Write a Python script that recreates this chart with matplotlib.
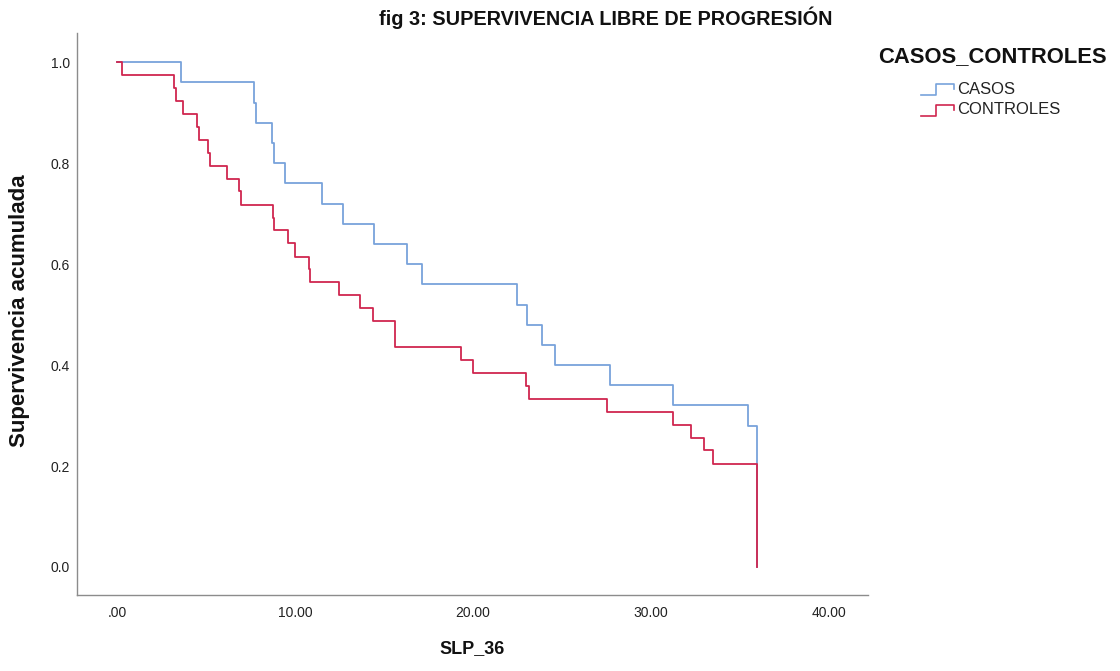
import matplotlib
matplotlib.use('Agg')
import matplotlib.pyplot as plt
from matplotlib.lines import Line2D

plt.rcParams['font.family'] = ['Liberation Sans', 'DejaVu Sans']

# Kaplan-Meier steps (time in months, survival after the event)
casos_t = [0.0, 3.62, 7.71, 7.80, 8.68, 8.81, 9.43, 11.50, 12.68, 14.46, 16.28, 17.12,
           22.46, 23.03, 23.88, 24.62, 27.71, 31.27, 35.46, 35.96]
casos_s = [1.00, 0.96, 0.92, 0.88, 0.84, 0.80, 0.76, 0.72, 0.68, 0.64, 0.60, 0.56,
           0.52, 0.48, 0.44, 0.40, 0.36, 0.32, 0.28, 0.00]

controles_t = [0.0, 0.28, 3.19, 3.34, 3.71, 4.50, 4.60, 5.12, 5.20, 6.17, 6.88, 6.94,
               8.74, 8.81, 9.62, 9.98, 10.76, 10.84, 12.49, 13.68, 14.40, 15.64,
               19.31, 20.02, 22.97, 23.16, 27.56, 31.27, 32.27, 33.00, 33.48, 35.96]
controles_s = [1.000, 0.974, 0.949, 0.923, 0.897, 0.872, 0.846, 0.821, 0.795, 0.769, 0.744, 0.718,
               0.692, 0.667, 0.641, 0.615, 0.590, 0.564, 0.538, 0.513, 0.487, 0.436,
               0.410, 0.385, 0.359, 0.333, 0.308, 0.282, 0.256, 0.231, 0.205, 0.000]

x_ticks = [0, 10, 20, 30, 40]
x_labels = ['.00', '10.00', '20.00', '30.00', '40.00']
y_ticks = [0.0, 0.2, 0.4, 0.6, 0.8, 1.0]
y_labels = ['0.0', '0.2', '0.4', '0.6', '0.8', '1.0']

group_names = ['CASOS', 'CONTROLES']
col_casos = '#78A3DB'
col_controles = '#D0264F'

W, H = 1120, 671
fig = plt.figure(figsize=(W / 100, H / 100), dpi=100)
fig.patch.set_facecolor('white')

# axes box in pixels: left 77, right 868, top 33, bottom 595
ax = fig.add_axes([77 / W, 1 - 595 / H, (868 - 77) / W, (595 - 33) / H])

ax.step(casos_t, casos_s, where='post', color=col_casos, lw=1.3, zorder=2)
ax.step(controles_t, controles_s, where='post', color=col_controles, lw=1.3, zorder=3)

ax.set_xlim(-2.25, 42.2)
ax.set_ylim(-0.0555, 1.058)
ax.set_xticks(x_ticks)
ax.set_xticklabels(x_labels)
ax.set_yticks(y_ticks)
ax.set_yticklabels(y_labels)
ax.tick_params(axis='both', length=0, labelsize=10, colors='#222222')
ax.tick_params(axis='x', pad=8)
ax.tick_params(axis='y', pad=5)

for side in ['top', 'right']:
    ax.spines[side].set_visible(False)
for side in ['left', 'bottom']:
    ax.spines[side].set_color('#8c8c8c')
    ax.spines[side].set_linewidth(1.0)

# titles and axis labels
fig.text(606 / W, 1 - 18 / H, 'fig 3: SUPERVIVENCIA LIBRE DE PROGRESIÓN',
         ha='center', va='center', fontsize=14.3, fontweight='bold', color='#111111')
fig.text(20 / W, 1 - 311 / H, 'Supervivencia acumulada', rotation=90,
         ha='center', va='center', fontsize=16, fontweight='bold', color='#111111')
fig.text(472 / W, 1 - 649 / H, 'SLP_36',
         ha='center', va='center', fontsize=13, fontweight='bold', color='#111111')

# legend drawn by hand (SPSS style step icon)
fig.text(878 / W, 1 - 57 / H, 'CASOS_CONTROLES',
         ha='left', va='center', fontsize=15.8, fontweight='bold', color='#111111')
for i, (name, col) in enumerate(zip(group_names, [col_casos, col_controles])):
    yc = 89 + 21 * i
    xs = [921, 936, 936, 954, 954]
    ys = [yc + 6, yc + 6, yc - 5, yc - 5, yc]
    fig.add_artist(Line2D([x / W for x in xs], [1 - y / H for y in ys],
                          transform=fig.transFigure, color=col, lw=1.2))
    fig.text(957 / W, 1 - yc / H, name, ha='left', va='center',
             fontsize=12, color='#222222')

fig.savefig('out.png', dpi=100, facecolor='white')
